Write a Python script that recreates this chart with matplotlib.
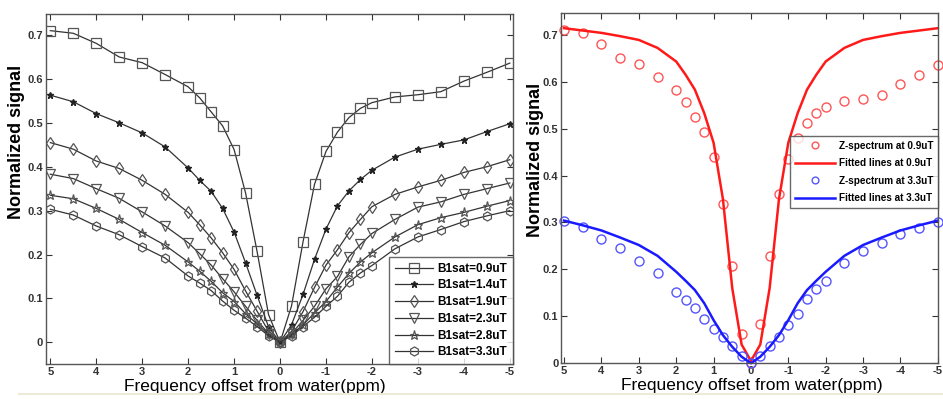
import matplotlib.pyplot as plt
import matplotlib.font_manager as fm
import numpy as np

# frequency offsets (ppm), shared by every series
offsets = [5, 4.5, 4, 3.5, 3, 2.5, 2, 1.75, 1.5, 1.25, 1, 0.75, 0.5, 0.25, 0,
           -0.25, -0.5, -0.75, -1, -1.25, -1.5, -1.75, -2, -2.5, -3, -3.5, -4, -4.5, -5]

# z-spectra, one per B1sat level
z09 = [0.710, 0.704, 0.681, 0.650, 0.637, 0.610, 0.582, 0.557, 0.525, 0.493, 0.439, 0.340, 0.207, 0.063, 0.0,
       0.083, 0.229, 0.360, 0.435, 0.479, 0.512, 0.533, 0.546, 0.559, 0.564, 0.571, 0.595, 0.615, 0.636]
z14 = [0.563, 0.548, 0.521, 0.500, 0.477, 0.445, 0.397, 0.369, 0.344, 0.305, 0.251, 0.181, 0.107, 0.035, 0.0,
       0.040, 0.109, 0.189, 0.258, 0.311, 0.345, 0.371, 0.392, 0.422, 0.440, 0.451, 0.461, 0.480, 0.498]
z19 = [0.455, 0.440, 0.413, 0.396, 0.369, 0.337, 0.296, 0.268, 0.238, 0.204, 0.166, 0.117, 0.071, 0.025, 0.0,
       0.025, 0.070, 0.125, 0.176, 0.211, 0.250, 0.280, 0.309, 0.337, 0.354, 0.369, 0.387, 0.400, 0.416]
z23 = [0.383, 0.373, 0.350, 0.328, 0.297, 0.265, 0.227, 0.202, 0.176, 0.145, 0.115, 0.082, 0.050, 0.020, 0.0,
       0.020, 0.050, 0.082, 0.122, 0.150, 0.195, 0.223, 0.248, 0.280, 0.308, 0.320, 0.337, 0.350, 0.363]
z28 = [0.335, 0.327, 0.305, 0.280, 0.250, 0.221, 0.183, 0.162, 0.139, 0.113, 0.093, 0.065, 0.042, 0.018, 0.0,
       0.018, 0.040, 0.067, 0.093, 0.126, 0.157, 0.183, 0.204, 0.240, 0.268, 0.284, 0.296, 0.310, 0.323]
z33 = [0.303, 0.290, 0.265, 0.245, 0.218, 0.192, 0.151, 0.135, 0.118, 0.094, 0.073, 0.055, 0.036, 0.015, 0.0,
       0.015, 0.036, 0.057, 0.082, 0.105, 0.137, 0.158, 0.175, 0.213, 0.240, 0.257, 0.275, 0.288, 0.300]

# fitted curves
fit09 = [0.714, 0.709, 0.704, 0.697, 0.689, 0.672, 0.643, 0.615, 0.583, 0.533, 0.470, 0.350, 0.160, 0.040, 0.005,
         0.040, 0.160, 0.350, 0.470, 0.533, 0.583, 0.615, 0.643, 0.672, 0.689, 0.697, 0.704, 0.709, 0.714]
fit33 = [0.304, 0.294, 0.283, 0.268, 0.252, 0.229, 0.195, 0.176, 0.156, 0.128, 0.092, 0.060, 0.035, 0.014, 0.0,
         0.014, 0.035, 0.060, 0.092, 0.128, 0.156, 0.176, 0.195, 0.229, 0.252, 0.268, 0.283, 0.294, 0.304]

labels = ['B1sat=0.9uT', 'B1sat=1.4uT', 'B1sat=1.9uT', 'B1sat=2.3uT', 'B1sat=2.8uT', 'B1sat=3.3uT']
markers = ['s', '*', 'd', 'v', '*', 'h']
xticks = [5, 4, 3, 2, 1, 0, -1, -2, -3, -4, -5]
xticklabels = ['5', '4', '3', '2', '1', '0', '-1', '-2', '-3', '-4', '-5']
yticks = [0, 0.1, 0.2, 0.3, 0.4, 0.5, 0.6, 0.7]
yticklabels = ['0', '0.1', '0.2', '0.3', '0.4', '0.5', '0.6', '0.7']

names = {f.name for f in fm.fontManager.ttflist}
narrow = 'Liberation Sans Narrow' if 'Liberation Sans Narrow' in names else 'Liberation Sans'
plt.rcParams['font.family'] = ['Liberation Sans', 'DejaVu Sans']

fig = plt.figure(figsize=(9.43, 3.99), dpi=100)
ax1 = fig.add_axes([0.0485, 0.087, 0.4955, 0.878])
ax2 = fig.add_axes([0.595, 0.0895, 0.3995, 0.8775])


def style(ax, xl, yl, yx):
    ax.set_xticks(xticks)
    ax.set_xticklabels(xticklabels, fontfamily=narrow, fontweight='bold', fontsize=8)
    ax.set_yticks(yticks)
    ax.set_yticklabels(yticklabels, fontfamily=narrow, fontweight='bold', fontsize=8)
    ax.tick_params(direction='in', top=True, right=True, length=4, width=0.8, pad=2, colors='#333333')
    for s in ax.spines.values():
        s.set_color('#555555')
        s.set_linewidth(1.0)
    ax.set_xlabel('Frequency offset from water(ppm)', fontfamily=narrow, fontsize=12.5)
    ax.set_ylabel('Normalized signal', fontweight='bold', fontsize=13)
    ax.xaxis.set_label_coords(xl, -0.042)
    ax.yaxis.set_label_coords(yx, yl)


# left panel: all z-spectra
series = [z09, z14, z19, z23, z28, z33]
for ys, m, lab in zip(series, markers, labels):
    if lab == 'B1sat=1.4uT':
        ax1.plot(offsets, ys, '-', marker=m, color='#333333', lw=0.9, ms=5, mfc='#222222',
                 mec='#222222', label=lab)
    else:
        ax1.plot(offsets, ys, '-', marker=m, color='#333333', lw=0.9, ms=6.5, mfc='none',
                 mec='#555555', mew=0.9, label=lab)
ax1.set_xlim(5.1, -5.07)
ax1.set_ylim(-0.05, 0.748)
style(ax1, 0.448, 0.635, -0.044)
leg1 = ax1.legend(loc='lower right', prop={'family': narrow, 'weight': 'bold', 'size': 8.5},
                  frameon=True, fancybox=False, borderaxespad=0, handlelength=3.2,
                  labelspacing=0.4, borderpad=0.5, handletextpad=0.4)
leg1.get_frame().set_edgecolor('#444444')
leg1.get_frame().set_linewidth(1.0)

# right panel: two spectra with fits
ax2.plot(offsets, z09, 'o', ms=6.5, mfc='none', mec='#ff5555', mew=1.0, label='Z-spectrum at 0.9uT')
ax2.plot(offsets, fit09, '-', color='#ff1a1a', lw=1.8, label='Fitted lines at 0.9uT')
ax2.plot(offsets, z33, 'o', ms=6.5, mfc='none', mec='#5555ff', mew=1.0, label='Z-spectrum at 3.3uT')
ax2.plot(offsets, fit33, '-', color='#1a1aff', lw=1.8, label='Fitted lines at 3.3uT')
ax2.set_xlim(5.08, -5.0)
ax2.set_ylim(0, 0.746)
style(ax2, 0.506, 0.58, -0.045)
for ln in ax2.lines:
    ln.set_clip_on(False)
leg2 = ax2.legend(loc='upper right', bbox_to_anchor=(1.0, 0.649),
                  prop={'family': narrow, 'weight': 'bold', 'size': 7.2},
                  frameon=True, fancybox=False, borderaxespad=0, handlelength=4.0,
                  labelspacing=0.75, borderpad=0.45, handletextpad=0.4, markerscale=0.75)
leg2.get_frame().set_edgecolor('#444444')
leg2.get_frame().set_linewidth(1.0)

# faint strip along the bottom of the scan
fig.add_artist(plt.Line2D([0.02, 1.0], [0.012, 0.012], color='#ecebd8', lw=1.5))

fig.savefig('out.png', dpi=100)
